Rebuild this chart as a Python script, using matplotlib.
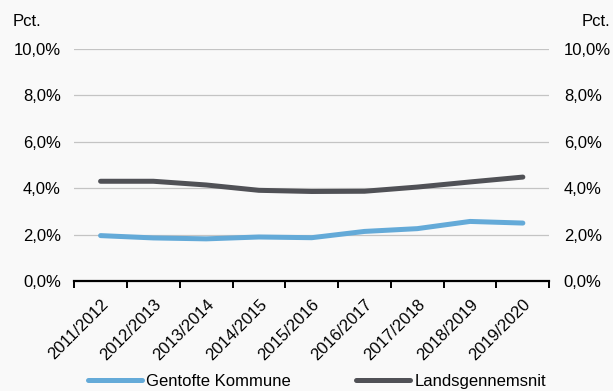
import matplotlib
matplotlib.use("Agg")
from matplotlib import pyplot as plt
from matplotlib.ticker import FuncFormatter, MultipleLocator
import numpy as np

plt.rcParams['font.family'] = ['Liberation Sans', 'DejaVu Sans']

years = ['2011/2012', '2012/2013', '2013/2014', '2014/2015', '2015/2016',
         '2016/2017', '2017/2018', '2018/2019', '2019/2020']
gentofte = [1.96, 1.86, 1.82, 1.90, 1.87, 2.14, 2.26, 2.57, 2.50]
lands = [4.30, 4.30, 4.14, 3.91, 3.86, 3.87, 4.05, 4.27, 4.48]

blue = '#64aad8'
dark = '#505156'
bg = '#f9f9f9'
fs = 12


def pct(v, pos):
    return f'{v:.1f}%'.replace('.', ',')


def main():
    fig = plt.figure(figsize=(6.13, 3.91), dpi=100, facecolor=bg)
    ax = fig.add_axes([0.121, 0.281, 0.775, 0.594])
    ax.set_facecolor(bg)
    x = np.arange(len(years))

    ax.plot(x, gentofte, color=blue, lw=3.6, solid_capstyle='round',
            solid_joinstyle='round', label='Gentofte Kommune', zorder=3)
    ax.plot(x, lands, color=dark, lw=3.6, solid_capstyle='round',
            solid_joinstyle='round', label='Landsgennemsnit', zorder=3)

    ax.set_xlim(-0.5, len(years) - 0.5)
    ax.set_ylim(0, 10)
    ax.yaxis.set_major_locator(MultipleLocator(2))
    ax.yaxis.set_major_formatter(FuncFormatter(pct))
    ax.grid(axis='y', color='#c4c4c4', lw=0.9)
    ax.set_axisbelow(True)
    for s in ['top', 'left', 'right']:
        ax.spines[s].set_visible(False)
    ax.spines['bottom'].set_color('black')
    ax.spines['bottom'].set_linewidth(1.6)
    ax.spines['bottom'].set_zorder(4)

    ax.set_xticks(x)
    ax.set_xticklabels(years, rotation=45, ha='right', rotation_mode='anchor',
                       fontsize=fs)
    ax.tick_params(axis='x', which='major', length=0, pad=11)
    ax.set_xticks(np.arange(-0.5, len(years)), minor=True)
    ax.tick_params(axis='x', which='minor', length=5, width=1.4, direction='out')
    ax.tick_params(axis='y', length=0, labelsize=fs, pad=9.5)

    ax2 = ax.twinx()
    ax2.set_ylim(0, 10)
    ax2.yaxis.set_major_locator(MultipleLocator(2))
    ax2.yaxis.set_major_formatter(FuncFormatter(pct))
    ax2.tick_params(axis='y', length=0, labelsize=fs, pad=10.5)
    for s in ax2.spines.values():
        s.set_visible(False)

    fig.text(0.020, 0.944, 'Pct.', fontsize=fs, ha='left', va='center')
    fig.text(0.995, 0.944, 'Pct.', fontsize=fs, ha='right', va='center')

    fig.legend(loc='center', bbox_to_anchor=(0.517, 0.024), ncol=2,
               frameon=False, fontsize=fs, handlelength=3.24,
               handletextpad=0.24, columnspacing=3.96)

    fig.savefig('out.png', dpi=100, facecolor=bg)


if __name__ == '__main__':
    main()
